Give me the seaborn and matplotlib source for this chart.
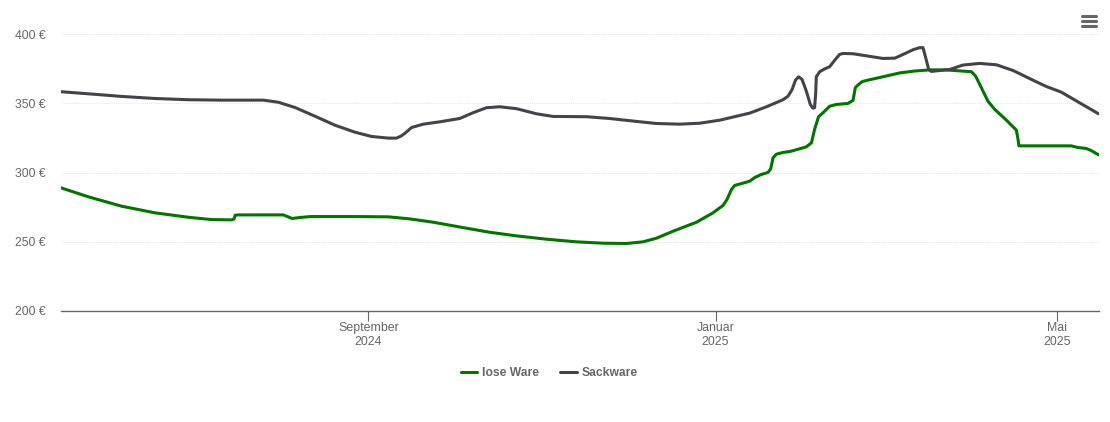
import matplotlib
matplotlib.use("Agg")
import matplotlib.pyplot as plt
from matplotlib.lines import Line2D
import pandas as pd
import seaborn as sns

sns.set_theme(style="white")
plt.rcParams['font.family'] = ['Liberation Sans', 'DejaVu Sans']

start = pd.Timestamp("2024-05-16")

# days since start, price in euro
lose_ware = [
    (0, 288.9), (9.6, 282.4), (21.3, 275.6), (33, 270.8), (44.7, 267.6), (52.9, 265.9),
    (60, 265.7), (60.8, 266.4), (61.2, 269.1), (62.3, 269.3), (78.1, 269.3), (79.8, 267.9),
    (81.2, 266.7), (83.9, 267.4), (87.5, 268.1), (103.3, 268.1), (115, 267.9), (122.6, 266.4),
    (130.8, 264), (141.3, 260.1), (150.7, 256.7), (160.1, 254.1), (170.6, 251.7), (181.1, 249.8),
    (190.5, 248.8), (198.7, 248.6), (204.5, 249.8), (209.2, 252.4), (215.1, 257.5), (223.3, 264),
    (229.1, 270.8), (232.6, 276.1), (234, 280.4), (235.6, 287.7), (236.7, 290.6), (239.1, 292),
    (242, 293.7), (243.8, 296.4), (246.1, 298.6), (248.4, 300), (249.4, 302.7), (250.2, 310.7),
    (251.4, 313.3), (253.7, 314.5), (256.1, 315.2), (259.6, 317.2), (261.9, 318.6), (263.7, 321.5),
    (264.8, 331.2), (266.2, 340.4), (267.8, 343.3), (270.1, 348), (272.5, 349.3), (276.5, 350),
    (278.3, 352.2), (279.1, 361.4), (280, 363.3), (281.6, 365.9), (284.2, 367.2), (287.7, 368.8),
    (294.7, 372.1), (300, 373.5), (305.2, 374.3), (310.5, 374.3), (312.3, 374.1), (319.9, 373),
    (321.4, 369.8), (324, 358.9), (325.7, 351.7), (328.1, 345.7), (332.2, 337.9), (335.7, 330.7),
    (336.3, 323.9), (336.6, 319.3), (355, 319.3), (357.3, 318.1), (360.3, 317.4), (362, 315.9),
    (364.6, 312.8),
]
sackware = [
    (0, 358.5), (9.6, 357), (21.3, 355.1), (33, 353.6), (44.7, 352.7), (56.4, 352.4),
    (71.1, 352.4), (76.3, 350.9), (82.2, 347.1), (89.2, 340.8), (96.2, 334.3), (103.3, 329.2),
    (109.1, 326.1), (115, 324.9), (117.9, 324.9), (119.4, 326.3), (120.8, 328.3), (123.2, 332.6),
    (127.3, 335), (133.1, 336.7), (140.1, 339.1), (144.8, 343.3), (149.5, 346.9), (154.2, 347.6),
    (160.1, 346.2), (167.1, 342.5), (172.9, 340.6), (184.7, 340.4), (192.8, 339.1), (202.2, 337),
    (209.2, 335.5), (217.4, 335), (224.5, 335.7), (231.5, 337.9), (242, 343), (247.9, 347.6),
    (253.7, 352.7), (255.5, 355.3), (256.9, 360.1), (258.1, 366.9), (259.2, 369.3), (260.4, 367.4),
    (261.9, 358.9), (263.3, 349.3), (264.2, 346.6), (264.8, 346.9), (265.2, 357.8), (265.4, 369.3),
    (266.6, 373), (268.4, 375.1), (270.1, 376.6), (271.9, 381.4), (273.6, 385.5), (274.8, 386.2),
    (278.3, 386), (284.2, 384.1), (288.8, 382.6), (293, 382.8), (295.9, 385.5), (299.4, 388.9),
    (301.7, 390.4), (302.9, 390.4), (303.7, 384.3), (304.9, 374.6), (305.8, 373.2), (309.9, 374.1),
    (312.3, 374.6), (316.9, 377.8), (322.8, 379), (328.7, 378), (334.5, 373.9), (341.5, 366.9),
    (346.2, 362.3), (351.5, 358.2), (357.9, 350.5), (364.6, 342.5),
]

rows = []
for name, series in [("lose Ware", lose_ware), ("Sackware", sackware)]:
    for day, price in series:
        rows.append({"date": start + pd.to_timedelta(day, unit="D"), "price": price, "typ": name})
df = pd.DataFrame(rows)

fig = plt.figure(figsize=(11.10, 4.22), dpi=100, facecolor="white")
ax = fig.add_axes([61 / 1110, 1 - 310.6 / 422, 1037.6 / 1110, 290 / 422])

sns.lineplot(data=df, x="date", y="price", hue="typ", palette=["#007500", "#434348"],
             linewidth=2.2, ax=ax, solid_joinstyle="round", solid_capstyle="round")

ax.set_xlim(start, start + pd.Timedelta(days=364.6))
ax.set_ylim(200, 410)
ax.set_xlabel("")
ax.set_ylabel("")

# y axis
ax.set_yticks([200, 250, 300, 350, 400])
ax.set_yticklabels(["200 €", "250 €", "300 €", "350 €", "400 €"])
ax.tick_params(axis="y", length=0, pad=11, labelsize=8.8, labelcolor="#666666")
ax.grid(axis="y", color="#e6e6e6", linewidth=0.7, linestyle=(0, (1, 1)))
ax.set_axisbelow(True)

# x axis
ax.set_xticks(pd.to_datetime(["2024-09-01", "2025-01-01", "2025-05-01"]))
ax.set_xticklabels(["September\n2024", "Januar\n2025", "Mai\n2025"], linespacing=1.25)
ax.tick_params(axis="x", length=7.5, width=0.8, color="#666666", pad=0.5, labelsize=8.9,
               labelcolor="#666666", bottom=True)

for side in ["top", "left", "right"]:
    ax.spines[side].set_visible(False)
ax.spines["bottom"].set_color("#666666")
ax.spines["bottom"].set_linewidth(1)

handles, labels = ax.get_legend_handles_labels()
leg = ax.legend(handles, labels, loc="center", ncol=2, frameon=False,
                bbox_to_anchor=(549.5 / 1110, 1 - 373 / 422), bbox_transform=fig.transFigure,
                prop={"size": 8.7, "weight": "bold"}, handlelength=1.33, handletextpad=0.42,
                columnspacing=1.74)
for text in leg.get_texts():
    text.set_color("#666666")

# menu icon top right
for y_px in [16, 21, 26]:
    fig.add_artist(Line2D([1081.5 / 1110, 1095.5 / 1110], [1 - y_px / 422] * 2, color="#666666",
                          linewidth=2.2, solid_capstyle="round"))

fig.savefig("out.png", dpi=100)
